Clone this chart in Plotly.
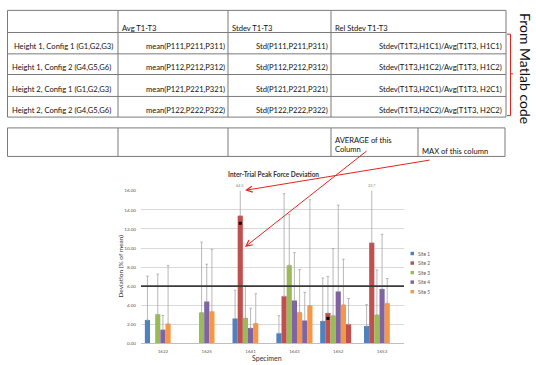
import plotly.graph_objects as go

W, H = 536, 365

# ---- chart data -------------------------------------------------------------
specimens = ["1622", "1625", "1641", "1643", "1652", "1653"]
sites = ["Site 1", "Site 2", "Site 3", "Site 4", "Site 5"]
site_colors = ["#4F81BD", "#C0504D", "#9BBB59", "#8064A2", "#F79646"]

# mean deviation (% of mean) per site and specimen
site1 = [2.44, None, 2.60, 1.05, 2.34, 1.81]
site2 = [None, None, 13.40, 4.95, 3.17, 10.55]
site3 = [3.04, 3.23, 2.66, 8.20, 2.93, 2.99]
site4 = [1.43, 4.40, 1.60, 4.50, 5.44, 5.71]
site5 = [2.04, 3.33, 2.10, 3.25, 4.06, 4.20]

# upper error (standard deviation)
site1_err = [4.61, 0, 2.97, 1.85, 4.51, 2.25]
site2_err = [0, 0, 51.10, 10.75, 3.85, 12.15]
site3_err = [4.22, 7.39, 3.39, 5.32, 7.02, 4.71]
site4_err = [1.49, 3.90, 2.08, 5.02, 9.06, 5.74]
site5_err = [6.11, 6.54, 3.10, 4.50, 4.76, 2.60]

# two extra unnamed series (repeat trials)
extra1 = [None, None, None, 2.40, 2.00, None]
extra1_err = [0, 0, 0, 2.95, 2.70, 0]
extra1_colors = ["#8064A2", "#8064A2", "#8064A2", "#8064A2", "#C0504D", "#C0504D"]
extra2 = [None, None, None, 3.97, None, None]
extra2_err = [0, 0, 0, 11.10, 0, 0]

# highlighted points on the Site 2 series
site2_marked = [None, None, 12.60, None, 2.62, None]

threshold = 6.0
y_max = 16.0

# ---- table data -------------------------------------------------------------
col_headers = ["", "Avg T1-T3", "Stdev T1-T3", "Rel Stdev T1-T3"]
row_labels = [" Height 1, Config 1 (G1,G2,G3)", "Height 1, Config 2 (G4,G5,G6)",
              "Height 2, Config 1 (G1,G2,G3)", "Height 2, Config 2 (G4,G5,G6)"]
avg_cells = ["mean(P111,P211,P311)", "mean(P112,P212,P312)",
             "mean(P121,P221,P321)", "mean(P122,P222,P322)"]
std_cells = ["Std(P111,P211,P311)", "Std(P112,P212,P312)",
             "Std(P121,P221,P321)", "Std(P122,P222,P322)"]
rel_cells = ["Stdev(T1T3,H1C1)/Avg(T1T3, H1C1)", "Stdev(T1T3,H1C2)/Avg(T1T3, H1C2)",
             "Stdev(T1T3,H2C1)/Avg(T1T3, H2C1)", "Stdev(T1T3,H2C2)/Avg(T1T3, H2C2)"]


def px(x):
    return x / W


def py(y):
    return 1 - y / H


FONT = "Lato"
fig = go.Figure()

series = [
    (site1, site1_err, site_colors[0], sites[0]),
    (site2, site2_err, site_colors[1], sites[1]),
    (site3, site3_err, site_colors[2], sites[2]),
    (site4, site4_err, site_colors[3], sites[3]),
    (site5, site5_err, site_colors[4], sites[4]),
    (extra1, extra1_err, extra1_colors, None),
    (extra2, extra2_err, "#F79646", None),
]
n_slots = len(series)
bargap = 0.176
xs = list(range(len(specimens)))

for vals, errs, col, name in series:
    fig.add_trace(go.Bar(
        x=xs, y=vals, name=name or "", showlegend=False,
        marker=dict(color=col, line=dict(width=0)),
        error_y=dict(type="data", array=errs, arrayminus=[0] * len(errs),
                     symmetric=False, color="#a6a6a6", thickness=0.8, width=1.3),
    ))

bw = (1 - bargap) / n_slots


def slot_x(i, k):
    return i - (1 - bargap) / 2 + (k + 0.5) * bw


fig.add_trace(go.Scatter(
    x=[slot_x(i, 1) for i in xs], y=site2_marked, mode="markers",
    marker=dict(symbol="square", size=3, color="black"), showlegend=False,
    cliponaxis=False,
))

# plot area placement (pixels)
PL, PR, PT, PB = 141, 404, 191, 346

fig.update_layout(
    width=W, height=H, margin=dict(l=0, r=0, t=0, b=0),
    paper_bgcolor="white", plot_bgcolor="white",
    barmode="group", bargap=bargap, bargroupgap=0,
    showlegend=False,
    xaxis=dict(domain=[px(PL), px(PR)], range=[-0.5, len(specimens) - 0.5],
               tickvals=xs, ticktext=specimens, showgrid=False, zeroline=False,
               showline=True, linecolor="#bfbfbf", linewidth=1, ticks="",
               ticklabelstandoff=3,
               tickfont=dict(family=FONT, size=4.5, color="#595959")),
    yaxis=dict(domain=[py(PB), py(PT)], range=[0, y_max], dtick=2, tickformat=".2f",
               showgrid=True, gridcolor="#d9d9d9", gridwidth=1, zeroline=False,
               showline=False, ticks="", ticklabelstandoff=4,
               tickfont=dict(family=FONT, size=4.6, color="#595959")),
)

shapes = []
annos = []


def note(x, y, text, font, xanchor="center", yanchor="middle", **kw):
    annos.append(dict(xref="paper", yref="paper", x=px(x), y=py(y), text=text,
                      xanchor=xanchor, yanchor=yanchor, showarrow=False,
                      font=font, **kw))


# threshold line
shapes.append(dict(type="line", xref="x domain", yref="y", x0=0, x1=1,
                   y0=threshold, y1=threshold, line=dict(color="#3a3a3a", width=1.6)))

# clipped error-bar value labels
for k, (vals, errs, col, name) in enumerate(series):
    for i in xs:
        v = vals[i]
        if v is not None and v + errs[i] > y_max:
            annos.append(dict(xref="x", yref="y", x=slot_x(i, k), y=y_max,
                              text=f"{v + errs[i]:.1f}", showarrow=False,
                              xanchor="center", yanchor="bottom", yshift=0.5,
                              font=dict(family=FONT, size=3.8, color="#7f7f7f")))

# chart title and axis titles
note(273, 174, "<b>Inter-Trial Peak Force Deviation</b>",
     dict(family=FONT, size=6.5, color="#333333"))
note(121, 268, "Deviation (% of mean)", dict(family=FONT, size=6.5, color="#333333"),
     textangle=-90)
note(267, 361, "Specimen", dict(family=FONT, size=7, color="#333333"))

# legend
for j, (s, c) in enumerate(zip(sites, site_colors)):
    yy = 254.7 + j * 9.7
    shapes.append(dict(type="rect", xref="paper", yref="paper",
                       x0=px(410.5), x1=px(414), y0=py(yy - 1.75), y1=py(yy + 1.75),
                       fillcolor=c, line=dict(width=0)))
    note(416, yy, s, dict(family=FONT, size=4.8, color="#595959"), xanchor="left")

# ---- table ------------------------------------------------------------------
LINE = dict(color="#7a7a7a", width=1)
cx = [7.5, 118, 228, 331, 506]
ry = [7.5, 30, 51.7, 72.7, 95, 116]
for y in ry:
    shapes.append(dict(type="line", xref="paper", yref="paper",
                       x0=px(cx[0]), x1=px(cx[-1]), y0=py(y), y1=py(y), line=LINE))
for x in cx:
    shapes.append(dict(type="line", xref="paper", yref="paper",
                       x0=px(x), x1=px(x), y0=py(ry[0]), y1=py(ry[-1]), line=LINE))

tf = dict(family=FONT, size=7.6, color="#111111")
for j, h in enumerate(col_headers):
    if h:
        note(cx[j] + 1.5, 25, h, tf, xanchor="left")
for r in range(4):
    yc = ry[r + 2] - 7.5
    note(cx[0] + 2, yc, row_labels[r], tf, xanchor="left")
    note(cx[2] - 1.5, yc, avg_cells[r], tf, xanchor="right")
    note(cx[3] - 1.5, yc, std_cells[r], tf, xanchor="right")
    note(cx[4] - 2.5, yc, rel_cells[r], tf, xanchor="right")

# summary row
bx = [7.5, 118, 228, 331, 418, 505]
by = [127, 156]
for y in by:
    shapes.append(dict(type="line", xref="paper", yref="paper",
                       x0=px(bx[0]), x1=px(bx[-1]), y0=py(y), y1=py(y), line=LINE))
for x in bx:
    shapes.append(dict(type="line", xref="paper", yref="paper",
                       x0=px(x), x1=px(x), y0=py(by[0]), y1=py(by[1]), line=LINE))
note(332.5, 139.5, "AVERAGE of this", tf, xanchor="left")
note(332.5, 148.5, "Column", tf, xanchor="left")
note(419.5, 150.5, "MAX of this column", tf, xanchor="left")

# bracket and side note
RED = "#e0261f"
shapes.append(dict(type="path", xref="paper", yref="paper",
                   path=(f"M {px(507)},{py(31.7)} L {px(510.5)},{py(31.7)} "
                         f"L {px(510.5)},{py(114.5)} L {px(507)},{py(114.5)} "
                         f"M {px(510.5)},{py(72)} L {px(513)},{py(72)}"),
                   line=dict(color=RED, width=1)))
note(525, 66, "From Matlab code", dict(family=FONT, size=14, color="#111111"),
     textangle=90)

# arrows from the summary row into the chart
annos.append(dict(xref="paper", yref="paper", x=px(245), y=py(248), text="",
                  showarrow=True, arrowhead=5, arrowsize=1.2, arrowwidth=1,
                  arrowcolor=RED, ax=368 - 245, ay=151 - 248))
annos.append(dict(xref="paper", yref="paper", x=px(245), y=py(190.5), text="",
                  showarrow=True, arrowhead=5, arrowsize=1.2, arrowwidth=1,
                  arrowcolor=RED, ax=431 - 245, ay=160 - 190.5))

fig.update_layout(shapes=shapes, annotations=annos)
fig.write_html("out.html")
